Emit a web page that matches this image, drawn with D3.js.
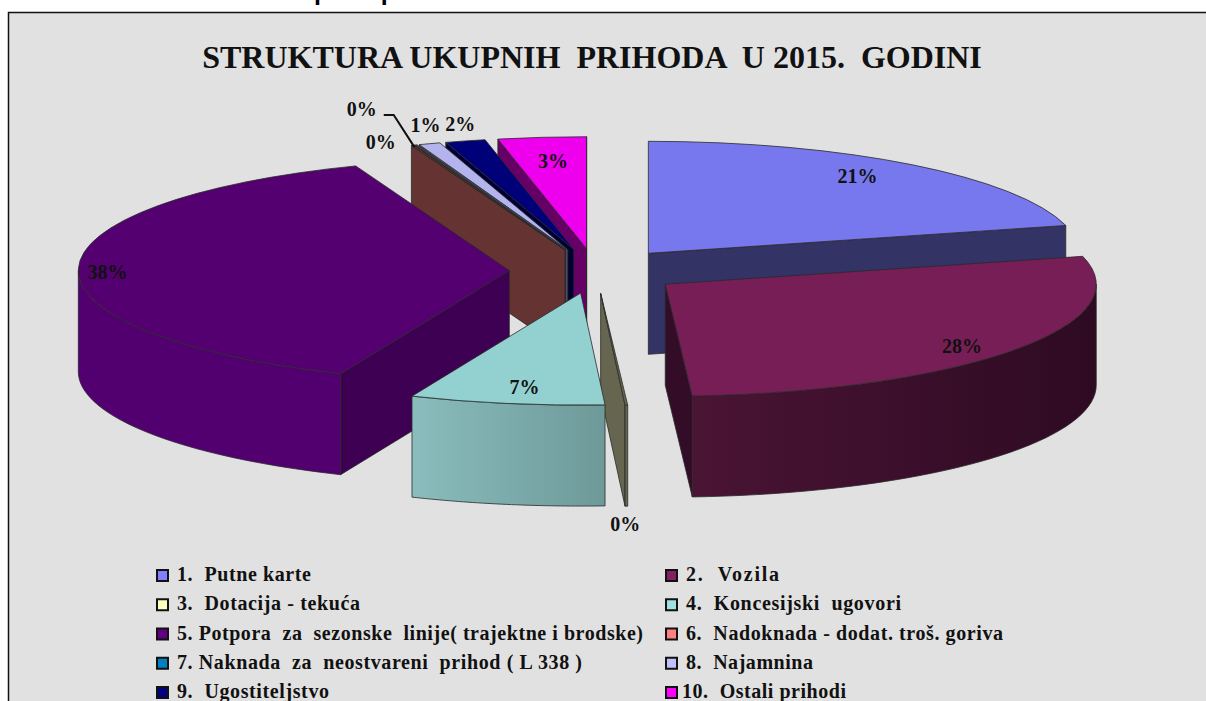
<!DOCTYPE html>
<html lang="en">

<head>
    <meta charset="UTF-8">
    <title>Struktura ukupnih prihoda</title>
    <script src="https://d3js.org/d3.v7.min.js"></script>
    <style>
        body { margin: 0; background: #fff; overflow: hidden; }
        text { white-space: pre; }
    </style>
</head>

<body>
    <svg id="chart" width="1206" height="701"></svg>

    <script>
        // data (share of total income, %)
        const categories = ["1.  Putne karte", "2.  Vozila", "3.  Dotacija - tekuća", "4.  Koncesijski  ugovori",
            "5. Potpora  za  sezonske  linije( trajektne i brodske)", "6.  Nadoknada - dodat. troš. goriva",
            "7. Naknada  za  neostvareni  prihod ( L 338 )", "8.  Najamnina", "9.  Ugostiteljstvo", "10.  Ostali prihodi"];
        const shares = [21.0, 28.0, 0.1, 7.3, 37.8, 0.1, 0.1, 0.8, 1.5, 3.3];

        // styles
        const legendColors = ["#8080ff", "#802060", "#ffffc0", "#a0e0e0", "#600080", "#ff8080", "#0080c0", "#c0c0ff", "#000080", "#ff00ff"];
        const topColors = ["#7878ee", "#771e56", "#666650", "#93d1d1", "#540070", "#663333", "#444444", "#b3b3ee", "#000078", "#ee00ee"];
        const sideColors = ["#333366", "#330d27", "#666650", "#6f9a9a", "#3e0052", "#663333", "#1c3c50", "#4d4d66", "#000033", "#660066"];
        const wallLeft = ["#333366", "#4a1435", "#666650", "#8abdbd", "#520070", "#663333", "#1c3c50", "#4d4d66", "#000033", "#660066"];
        const wallRight = ["#333366", "#2e0a22", "#666650", "#6e9999", "#520070", "#663333", "#1c3c50", "#4d4d66", "#000033", "#660066"];

        // layout
        const drawOrder = [0, 9, 8, 7, 6, 5, 4, 2, 1, 3];
        const labelNudge = [[-55, 12], [-52, -3], [-1, 120], [18, -15], [29, 5], [-32, -2], [-54, -35], [-4, -18], [-5, -16], [11, 25]];
        const legendWidths = [134, 93, 183, 215, 466, 317, 405, 127, 152, 164];
        const cx = 595.5, cy = 271, rx = 431, ry = 112, depth = 101, explode = 0.2;

        const svg = d3.select("#chart");
        const serif = "'Liberation Serif', serif";

        // header line of the page, cut off by the top of the picture
        svg.append("text")
            .attr("x", 14).attr("y", 0)
            .attr("font-family", "'Liberation Sans', sans-serif")
            .attr("font-weight", "bold").attr("font-size", 25)
            .text("Grafikon 1. Struktura ukupnih  prihoda");

        svg.append("rect")
            .attr("x", 8.5).attr("y", 12.5).attr("width", 1300).attr("height", 800)
            .attr("fill", "#e1e1e1").attr("stroke", "#111").attr("stroke-width", 1.5);

        svg.append("text")
            .attr("x", 592).attr("y", 68)
            .attr("text-anchor", "middle")
            .attr("font-family", serif).attr("font-weight", "bold").attr("font-size", 32)
            .attr("fill", "#111")
            .text("STRUKTURA UKUPNIH  PRIHODA  U 2015.  GODINI");

        const pie = d3.pie().sort(null).value(d => d);
        const slices = pie(shares);
        const arc = d3.arc().innerRadius(0).outerRadius(rx);
        const line = d3.line();
        const ellipse = (a, k) => [k * rx * Math.sin(a), -k * ry * Math.cos(a)];

        const defs = svg.append("defs");
        const pieG = svg.append("g");

        function drawSlice(i) {
            const s = slices[i];
            const mid = (s.startAngle + s.endAngle) / 2;
            const off = ellipse(mid, explode);
            const g = pieG.append("g").attr("transform", `translate(${cx + off[0]},${cy + off[1]})`);
            const styled = sel => sel.attr("stroke", "#2a2a2a").attr("stroke-width", 0.8).attr("stroke-linejoin", "round");

            // cut faces that look towards the viewer
            const cutFace = a => {
                const p = ellipse(a, 1);
                styled(g.append("path"))
                    .attr("d", line([[0, 0], p, [p[0], p[1] + depth], [0, depth]]) + "Z")
                    .attr("fill", sideColors[i]);
            };
            if (Math.sin(s.startAngle) < 0) cutFace(s.startAngle);
            if (Math.sin(s.endAngle) > 0) cutFace(s.endAngle);

            // outer wall, only the front half of the rim shows
            const a0 = Math.max(s.startAngle, Math.PI / 2);
            const a1 = Math.min(s.endAngle, Math.PI * 1.5);
            if (a1 > a0) {
                const rim = d3.range(0, 41).map(t => ellipse(a0 + (a1 - a0) * t / 40, 1));
                const lower = rim.map(p => [p[0], p[1] + depth]).reverse();
                const xs = d3.extent(rim, p => p[0]);
                const gid = "wall" + i;
                const grad = defs.append("linearGradient").attr("id", gid)
                    .attr("gradientUnits", "userSpaceOnUse")
                    .attr("x1", xs[0]).attr("x2", xs[1]).attr("y1", 0).attr("y2", 0);
                grad.append("stop").attr("offset", 0).attr("stop-color", wallLeft[i]);
                grad.append("stop").attr("offset", 1).attr("stop-color", wallRight[i]);
                styled(g.append("path"))
                    .attr("d", line(rim.concat(lower)) + "Z")
                    .attr("fill", `url(#${gid})`);
            }

            // top face, a circular arc squashed into the ellipse
            styled(g.append("path"))
                .attr("d", arc(s))
                .attr("transform", `scale(1,${ry / rx})`)
                .attr("vector-effect", "non-scaling-stroke")
                .attr("fill", topColors[i]);
        }
        drawOrder.forEach(drawSlice);

        // percentage labels, placed relative to the middle of each slice's rim
        const pct = d3.format(".0f");
        const labelPos = slices.map((s, i) => {
            const mid = (s.startAngle + s.endAngle) / 2;
            const p = ellipse(mid, 1 + explode);
            return [cx + p[0] + labelNudge[i][0], cy + p[1] + labelNudge[i][1]];
        });
        svg.append("g").selectAll("text")
            .data(shares)
            .join("text")
            .attr("x", (d, i) => labelPos[i][0])
            .attr("y", (d, i) => labelPos[i][1] + 6)
            .attr("text-anchor", "middle")
            .attr("font-family", serif).attr("font-weight", "bold").attr("font-size", 20)
            .attr("fill", "#111")
            .text(d => pct(d) + "%");

        // leader line of the second 0% label at the top
        const leadStart = labelPos[6];
        const leadEnd = ellipse(slices[6].startAngle, 1);
        const leadOff = ellipse((slices[6].startAngle + slices[6].endAngle) / 2, explode);
        svg.append("path")
            .attr("d", line([[leadStart[0] + 22, leadStart[1] + 5], [leadStart[0] + 32, leadStart[1] + 5],
                [cx + leadOff[0] + leadEnd[0], cy + leadOff[1] + leadEnd[1] + 2]]))
            .attr("fill", "none").attr("stroke", "#111").attr("stroke-width", 2);

        // legend, two columns filled row by row
        const legendX = d3.scaleOrdinal().domain([0, 1]).range([156, 665]);
        const legendY = d3.scaleLinear().domain([0, 4]).range([575, 692]);
        const legend = svg.append("g").selectAll("g")
            .data(categories)
            .join("g")
            .attr("transform", (d, i) => `translate(${legendX(i % 2)},${legendY(Math.floor(i / 2))})`);
        legend.append("rect")
            .attr("x", 1).attr("y", -5).attr("width", 11).attr("height", 11)
            .attr("fill", (d, i) => legendColors[i])
            .attr("stroke", "#111").attr("stroke-width", 2);
        legend.append("text")
            .attr("x", (d, i) => i === 9 ? 17 : 21).attr("y", 6)
            .attr("font-family", serif).attr("font-weight", "bold").attr("font-size", 20)
            .attr("textLength", (d, i) => legendWidths[i])
            .attr("lengthAdjust", "spacing")
            .attr("fill", "#111")
            .text(d => d);
    </script>
</body>

</html>
